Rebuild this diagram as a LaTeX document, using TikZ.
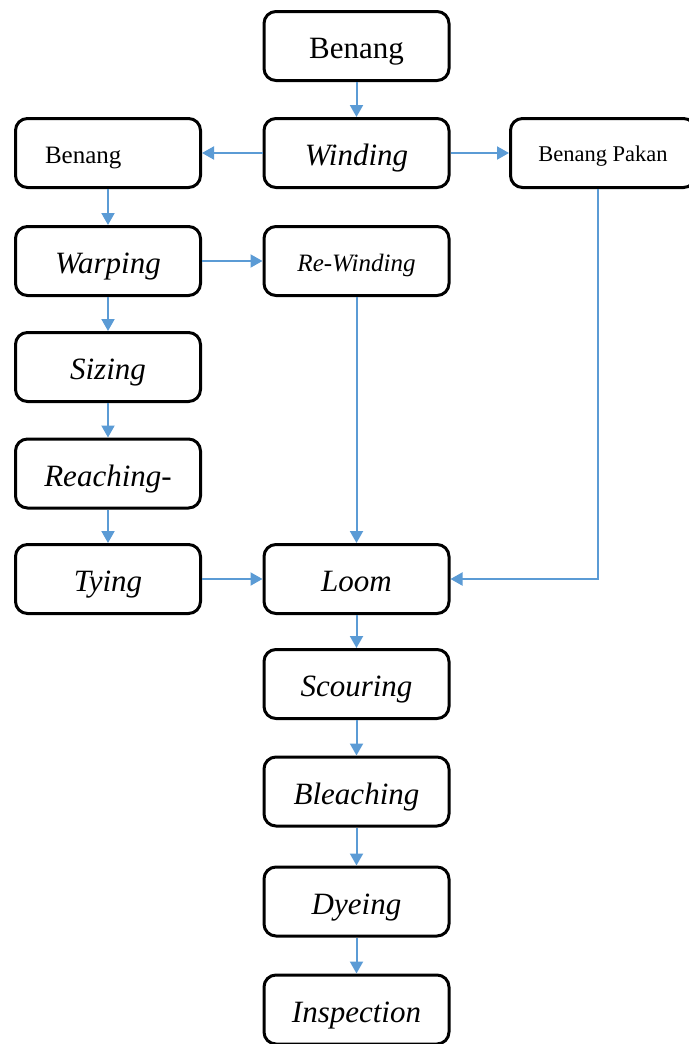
\documentclass[tikz,border=0pt]{standalone}
\usepackage{fontspec}
\setmainfont{Liberation Serif}
\usetikzlibrary{arrows.meta}
\definecolor{flowblue}{HTML}{5B9BD5}

\tikzset{
  box/.style={draw, line width=3pt, rounded corners=12pt, minimum width=185pt,
    minimum height=69pt, inner sep=0pt, text height=26pt, text depth=1pt,
    font=\fontsize{31}{36}\selectfont},
  midbox/.style={box, text height=21pt, font=\fontsize{25}{30}\selectfont},
  smallbox/.style={box, text height=17pt, font=\fontsize{22.5}{27}\selectfont},
  flow/.style={color=flowblue, line width=2pt, -{Triangle[length=12pt,width=13pt]}}
}

\begin{document}
\begin{tikzpicture}[x=1pt,y=-1pt]
\useasboundingbox (0,0) rectangle (688,1044);
            % Boxes
\node[box] (benang) at (356.5,46) {Benang};
\node[midbox,text width=126pt,align=left,inner xsep=29.5pt] (benangL) at (108,153) {Benang};
\node[box] (winding) at (356.5,153) {\itshape Winding};
\node[smallbox] (pakan) at (603,153) {Benang Pakan};
\node[box] (warping) at (108,261) {\itshape Warping};
\node[midbox] (rewinding) at (356.5,261) {\itshape Re-Winding};
\node[box] (sizing) at (108,367) {\itshape Sizing};
\node[box] (reaching) at (108,473.5) {\itshape Reaching-};
\node[box] (tying) at (108,579) {\itshape Tying};
\node[box] (loom) at (356.5,579) {\itshape Loom};
\node[box] (scouring) at (356.5,684) {\itshape Scouring};
\node[box] (bleaching) at (356.5,791.5) {\itshape Bleaching};
\node[box] (dyeing) at (356.5,901.5) {\itshape Dyeing};
\node[box] (inspection) at (356.5,1009.5) {\itshape Inspection};
%Arrows
\draw[flow] (benang) -- (winding);
\draw[flow] (winding) -- (benangL);
\draw[flow] (winding) -- (pakan);
\draw[flow] (benangL) -- (warping);
\draw[flow] (warping) -- (rewinding);
\draw[flow] (warping) -- (sizing);
\draw[flow] (sizing) -- (reaching);
\draw[flow] (reaching) -- (tying);
\draw[flow] (rewinding) -- (loom);
\draw[flow] (tying) -- (loom);
\draw[flow] ([xshift=-5pt]pakan.south) |- (loom.east);
%Finishing
\draw[flow] (loom) -- (scouring);
\draw[flow] (scouring) -- (bleaching);
\draw[flow] (bleaching) -- (dyeing);
\draw[flow] (dyeing) -- (inspection);
\end{tikzpicture}
\end{document}
